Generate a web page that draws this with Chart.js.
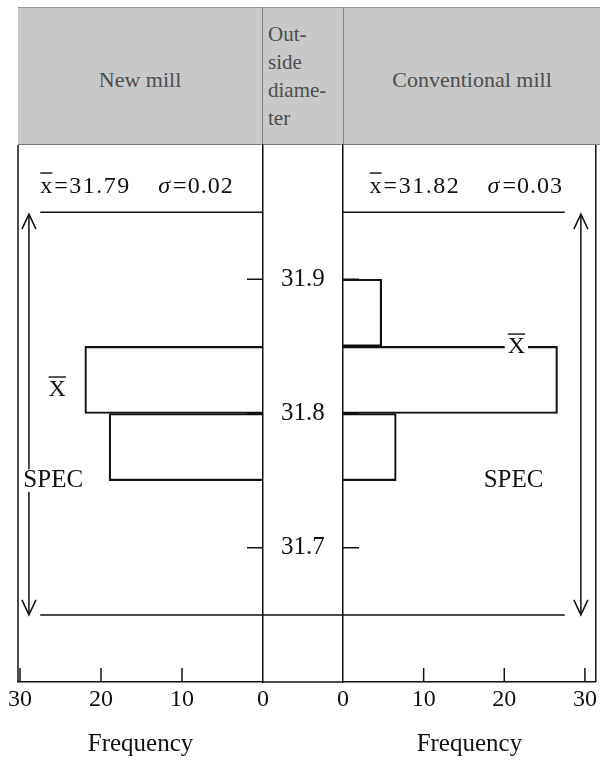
<!DOCTYPE html>
<html>
<head>
<meta charset="utf-8">
<script src="https://cdn.jsdelivr.net/npm/chart.js@4.4.0/dist/chart.umd.min.js"></script>
<style>
  body { margin: 0; background: #fff; width: 600px; height: 760px; position: relative; overflow: hidden;
         font-family: "Liberation Serif", "DejaVu Serif", serif; }
  #head { position: absolute; left: 18px; top: 7px; width: 582px; height: 138px; background: #c8c8c8;
          border-top: 1px solid #999; border-bottom: 1px solid #777; box-sizing: border-box; }
  .sep { position: absolute; top: 7px; width: 1px; height: 138px; background: #808080; }
  .hd { position: absolute; color: #4e4e4e; font-size: 22px; line-height: 28px; }
  canvas { position: absolute; top: 0; }
</style>
</head>
<body>
<div id="head"></div>
<div class="sep" style="left:262px"></div>
<div class="sep" style="left:343px"></div>
<div class="hd" style="left:18px;width:244px;top:66px;text-align:center">New mill</div>
<div class="hd" style="left:268px;top:20px;font-size:21px">Out-<br>side<br>diame-<br>ter</div>
<div class="hd" style="left:344px;width:256px;top:66px;text-align:center">Conventional mill</div>
<canvas id="left" width="343" height="760" style="left:0"></canvas>
<canvas id="right" width="300" height="760" style="left:300px"></canvas>
<script>
const FONT = '"Liberation Serif", "DejaVu Serif", serif';
const INK = '#111';

// outside diameter axis
const yTicks = [31.7, 31.8, 31.9];
const specLimits = [31.65, 31.95];
// frequency axis
const freqTicks = [0, 10, 20, 30];

// New mill: bin centres (class width 0.05) and counts
const newBins = [31.775, 31.825];
const newFreq = [19, 22];
const newMean = '31.79';
const newSigma = '0.02';

// Conventional mill
const convBins = [31.775, 31.825, 31.875];
const convFreq = [6.6, 26.6, 4.8];
const convMean = '31.82';
const convSigma = '0.03';

function line(ctx, x1, y1, x2, y2) {
  ctx.beginPath(); ctx.moveTo(x1, y1); ctx.lineTo(x2, y2); ctx.stroke();
}

function arrow(ctx, x, y1, y2) {
  line(ctx, x, y1, x, y2);
  ctx.beginPath();
  ctx.moveTo(x - 7, y1 + 15); ctx.lineTo(x, y1); ctx.lineTo(x + 7, y1 + 15);
  ctx.moveTo(x - 7, y2 - 15); ctx.lineTo(x, y2); ctx.lineTo(x + 7, y2 - 15);
  ctx.stroke();
}

function label(ctx, text, x, y, size, clear) {
  ctx.font = size + 'px ' + FONT;
  ctx.textAlign = 'center';
  ctx.textBaseline = 'middle';
  const w = ctx.measureText(text).width;
  if (clear) {
    ctx.save(); ctx.fillStyle = '#fff';
    ctx.fillRect(x - w / 2 - 3, y - size * 0.45, w + 6, size * 0.9);
    ctx.restore();
  }
  ctx.fillText(text, x, y);
  return w;
}

function xbar(ctx, x, y) {
  const w = label(ctx, 'X', x, y, 24, true);
  ctx.fillRect(x - w / 2, y - 13, w, 1.4);
}

function stats(ctx, x0, yb, mean, sigma) {
  ctx.textAlign = 'left';
  ctx.textBaseline = 'alphabetic';
  ctx.font = '24px ' + FONT;
  ctx.fillText('x', x0, yb);
  const wx = ctx.measureText('x').width;
  ctx.fillRect(x0, yb - 21, wx, 1.4);
  ctx.letterSpacing = '1.5px';
  ctx.fillText('=' + mean, x0 + wx + 2, yb);
  ctx.letterSpacing = '0px';
  ctx.font = 'italic 24px ' + FONT;
  ctx.fillText('σ', x0 + 118, yb);
  const ws = ctx.measureText('σ').width;
  ctx.font = '24px ' + FONT;
  ctx.letterSpacing = '1px';
  ctx.fillText('=' + sigma, x0 + 118 + ws + 3, yb);
  ctx.letterSpacing = '0px';
}

// where the annotations sit, in axis units
const place = {
  left:  { specReach: 27.5, arrowX: 28.9, specX: 25.9, barX: 25.4, barY: 31.818, statX: 27.5, mean: newMean, sigma: newSigma },
  right: { specReach: 27.5, arrowX: 29.5, specX: 21.15, barX: 21.5, barY: 31.85, statX: 3.3, mean: convMean, sigma: convSigma }
};

function decor(side) {
  return {
    id: 'decor_' + side,
    afterDraw(chart) {
      const { ctx, chartArea: a, scales: { x, y } } = chart;
      const px = v => x.getPixelForValue(v), py = v => y.getPixelForValue(v);
      const L = side === 'left', p = place[side];
      ctx.save();
      ctx.strokeStyle = INK; ctx.fillStyle = INK; ctx.lineWidth = 1.5;

      // outer frame edge
      const edge = L ? a.left : a.right;
      line(ctx, edge, a.top, edge, a.bottom);
      if (L) line(ctx, a.right, a.bottom, chart.width, a.bottom);

      // inward tick marks
      yTicks.forEach(v => line(ctx, L ? a.right - 16 : a.left, py(v), L ? a.right : a.left + 16, py(v)));
      freqTicks.slice(1).forEach(v => line(ctx, px(v), a.bottom, px(v), a.bottom - 14));

      // spec limits
      const sx = px(p.specReach);
      line(ctx, sx, py(specLimits[1]), L ? a.right : a.left, py(specLimits[1]));
      line(ctx, sx, py(specLimits[0]), L ? chart.width : a.left, py(specLimits[0]));
      arrow(ctx, px(p.arrowX), py(specLimits[1]) + 2, py(specLimits[0]));
      label(ctx, 'SPEC', px(p.specX), py(31.75), 25, L);

      // mean marker and summary
      xbar(ctx, px(p.barX), py(p.barY));
      stats(ctx, px(p.statX), py(31.964), p.mean, p.sigma);
      ctx.restore();
    }
  };
}

function freqAxis(reverse, max) {
  return {
    type: 'linear', min: 0, max: max, reverse: reverse, position: 'bottom',
    afterFit: s => { s.height = 78; },
    afterBuildTicks: s => { s.ticks = freqTicks.map(v => ({ value: v })); },
    ticks: { font: { family: FONT, size: 24 }, color: INK, padding: 3, maxRotation: 0, autoSkip: false },
    grid: { display: false, drawTicks: false },
    border: { color: INK, width: 1.5 },
    title: { display: true, text: 'Frequency', font: { family: FONT, size: 25 }, color: INK, padding: { top: 4, bottom: 1 } }
  };
}

function diameterAxis(position, width, showLabels) {
  return {
    type: 'linear', position: position, min: 31.6, max: 32.0, offset: false,
    afterFit: s => { s.width = width; },
    afterBuildTicks: s => { s.ticks = yTicks.map(v => ({ value: v })); },
    ticks: { display: showLabels, font: { family: FONT, size: 25 }, color: INK, crossAlign: 'center', padding: 18,
             callback: v => v.toFixed(1) },
    grid: { display: false, drawTicks: false, offset: false },
    border: { color: INK, width: 1.5 }
  };
}

function barSet(bins, freq) {
  return {
    data: bins.map((b, i) => ({ x: freq[i], y: b })),
    backgroundColor: 'rgba(255,255,255,0)', borderColor: INK, borderWidth: 1.5,
    barPercentage: 1, categoryPercentage: 1
  };
}

const common = {
  indexAxis: 'y', responsive: false, animation: false, events: [],
  plugins: { legend: { display: false }, tooltip: { enabled: false } }
};

new Chart(document.getElementById('left'), {
  type: 'bar',
  data: { datasets: [barSet(newBins, newFreq)] },
  options: Object.assign({}, common, {
    layout: { padding: { left: 18, top: 145, right: 0, bottom: 0 } },
    scales: { x: freqAxis(true, 30.25), y: diameterAxis('right', 80, true) }
  }),
  plugins: [decor('left')]
});

new Chart(document.getElementById('right'), {
  type: 'bar',
  data: { datasets: [barSet(convBins, convFreq)] },
  options: Object.assign({}, common, {
    layout: { padding: { left: 43, top: 145, right: 2, bottom: 0 } },
    scales: { x: freqAxis(false, 31.35), y: diameterAxis('left', 0, false) }
  }),
  plugins: [decor('right')]
});
</script>
</body>
</html>
